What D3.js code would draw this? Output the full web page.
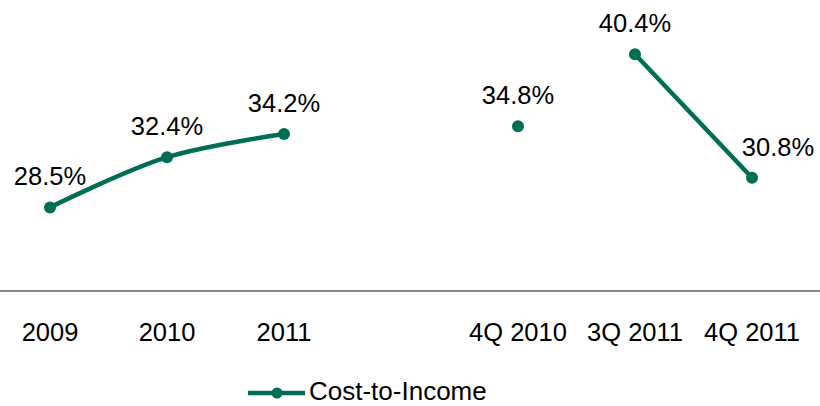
<!DOCTYPE html>
<html><head><meta charset="utf-8">
<script src="https://cdn.jsdelivr.net/npm/d3@7"></script>
<style>html,body{margin:0;padding:0;background:#fff;}svg{display:block;font-family:"Liberation Sans",Arial,sans-serif;}</style>
</head><body>
<svg id="chart" width="820" height="406"></svg>
<script>
const categories = ["2009","2010","2011","","4Q 2010","3Q 2011","4Q 2011"];
const values = [28.5, 32.4, 34.2, null, 34.8, 40.4, 30.8];
const segmentGroups = [0, 0, 0, null, 1, 2, 2];
const seriesName = "Cost-to-Income";

const color = "#006E55";
const svg = d3.select("#chart");
const W = 820, H = 406;

const x = d3.scalePoint().domain(categories.map((c,i)=>i)).range([50, 752]);
const y = d3.scaleLinear().domain([22, 44]).range([291, 8]);

// baseline axis
svg.append("line").attr("x1",0).attr("x2",W).attr("y1",y(22)).attr("y2",y(22))
  .attr("stroke","#888").attr("stroke-width",2);

// category labels
svg.append("g").selectAll("text").data(categories).join("text")
  .attr("x",(d,i)=>x(i)).attr("y",341).attr("text-anchor","middle")
  .attr("font-size",25.5).attr("fill","#000").text(d=>d);

const pts = values.map((v,i)=>({i, v, g: segmentGroups[i], c: categories[i]})).filter(d=>d.v!=null);
const groups = d3.groups(pts, d=>d.g);
const line = d3.line().x(d=>x(d.i)).y(d=>y(d.v)).curve(d3.curveCatmullRom.alpha(0.5));

svg.append("g").selectAll("path").data(groups).join("path")
  .attr("d", d=>line(d[1])).attr("fill","none").attr("stroke",color)
  .attr("stroke-width",4.5).attr("stroke-linejoin","round").attr("stroke-linecap","round");

svg.append("g").selectAll("circle").data(pts).join("circle")
  .attr("cx",d=>x(d.i)).attr("cy",d=>y(d.v)).attr("r",6).attr("fill",color);

svg.append("g").selectAll("text").data(pts).join("text")
  .attr("x",d=>x(d.i) + (d.i===categories.length-1 ? 26 : 0))
  .attr("y",d=>y(d.v)-22).attr("text-anchor","middle")
  .attr("font-size",25.5).attr("fill","#000").text(d=>d.v.toFixed(1)+"%");

// legend
const lg = svg.append("g");
lg.append("line").attr("x1",248).attr("x2",305).attr("y1",393).attr("y2",393)
  .attr("stroke",color).attr("stroke-width",4.5);
lg.append("circle").attr("cx",277).attr("cy",393).attr("r",5.5).attr("fill",color);
lg.append("text").attr("x",309).attr("y",400).attr("font-size",26).attr("fill","#000").text(seriesName);
</script>
</body></html>
